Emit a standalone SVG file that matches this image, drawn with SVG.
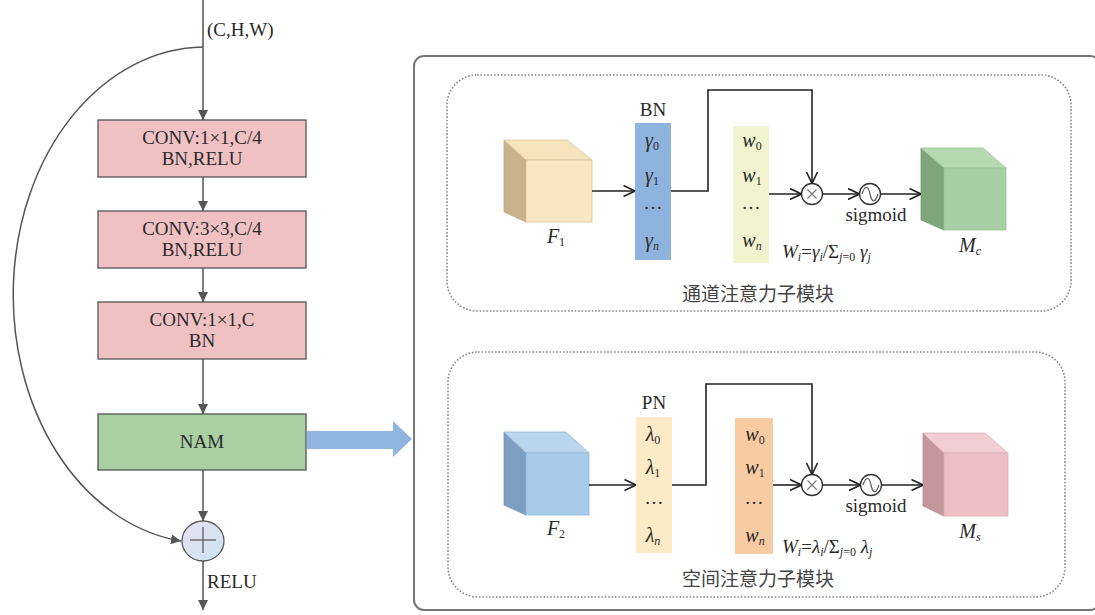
<svg xmlns="http://www.w3.org/2000/svg" width="1095" height="615" viewBox="0 0 1095 615">
<style>
.box{stroke:#555;stroke-width:1.3}
.pink{fill:#F0C1C3}
.green{fill:#A9CFA3}
.t{font-family:"Liberation Serif","Times New Roman",serif;font-size:19px;fill:#2a2a2a;text-anchor:middle}
.ti{font-family:"Liberation Serif","Times New Roman",serif;font-size:20px;font-style:italic;fill:#2a2a2a;text-anchor:middle}
.tl{font-family:"Liberation Serif","Times New Roman",serif;font-size:19px;fill:#2a2a2a}
.cn{font-family:"Noto Sans CJK SC",sans-serif;font-size:19px;fill:#444;text-anchor:middle}
.lc{fill:none;stroke:#555;stroke-width:1.5}
.rc{fill:none;stroke:#222;stroke-width:1.6}
.dot{fill:none;stroke:#888;stroke-width:1.6;stroke-dasharray:1.6 1.8}
.op{fill:#fff;stroke:#333;stroke-width:1.3}
</style>
<defs>
<marker id="tri" viewBox="0 0 10 10" refX="10" refY="5" markerWidth="10" markerHeight="10" markerUnits="userSpaceOnUse" orient="auto">
<path d="M0,0 L10,5 L0,10 z" fill="#555"/>
</marker>
<marker id="chev" viewBox="0 0 12 12" refX="12" refY="6" markerWidth="12" markerHeight="12" markerUnits="userSpaceOnUse" orient="auto">
<path d="M0.5,0.5 L12,6 L0.5,11.5" fill="none" stroke="#222" stroke-width="1.6"/>
</marker>
<linearGradient id="plusg" x1="0" y1="0" x2="1" y2="1">
<stop offset="0" stop-color="#EAE0F4"/>
<stop offset="1" stop-color="#C9E6F0"/>
</linearGradient>
</defs>
<rect width="1095" height="615" fill="#fff"/>

<!-- Left connectors -->
<g id="left-connectors">
<line class="lc" x1="203" y1="0" x2="203" y2="120" marker-end="url(#tri)"/>
<line class="lc" x1="203" y1="177" x2="203" y2="211" marker-end="url(#tri)"/>
<line class="lc" x1="203" y1="268" x2="203" y2="302" marker-end="url(#tri)"/>
<line class="lc" x1="203" y1="359" x2="203" y2="414" marker-end="url(#tri)"/>
<line class="lc" x1="203" y1="470" x2="203" y2="521" marker-end="url(#tri)"/>
<line class="lc" x1="203" y1="561" x2="203" y2="610" marker-end="url(#tri)"/>
<path class="lc" d="M203,47 A192,248 0 0 0 181,541" marker-end="url(#tri)"/>
</g>

<text class="tl" x="207" y="36">(C,H,W)</text>

<g id="conv1">
<rect class="box pink" x="98" y="120" width="208" height="57"/>
<text class="t" x="202" y="144">CONV:1×1,C/4</text>
<text class="t" x="202" y="165">BN,RELU</text>
</g>
<g id="conv2">
<rect class="box pink" x="98" y="211" width="208" height="57"/>
<text class="t" x="202" y="235">CONV:3×3,C/4</text>
<text class="t" x="202" y="256">BN,RELU</text>
</g>
<g id="conv3">
<rect class="box pink" x="98" y="302" width="208" height="57"/>
<text class="t" x="202" y="326">CONV:1×1,C</text>
<text class="t" x="202" y="347">BN</text>
</g>
<g id="nam">
<rect class="box green" x="98" y="414" width="208" height="56"/>
<text class="t" x="202" y="448">NAM</text>
</g>
<g id="add">
<ellipse cx="203" cy="541" rx="21" ry="20" fill="url(#plusg)" stroke="#555" stroke-width="1.3"/>
<line x1="190" y1="540" x2="216" y2="540" stroke="#666" stroke-width="1.4"/>
<line x1="203" y1="527" x2="203" y2="553" stroke="#666" stroke-width="1.4"/>
</g>
<text class="tl" x="207" y="588">RELU</text>

<g id="big-arrow">
<polygon points="307,431 393,431 393,421 412,439 393,457 393,449 307,449" fill="#8FB4E0"/>
</g>

<!-- Right panel -->
<g id="panel">
<rect x="414" y="56" width="686" height="554" rx="10" fill="none" stroke="#777" stroke-width="2"/>
<rect class="dot" x="447" y="75" width="624" height="236" rx="30"/>
<rect class="dot" x="448" y="352" width="617" height="245" rx="30"/>
</g>

<!-- Channel attention -->
<g id="F1">
<polygon points="504,140 526,160 526,222 504,212" fill="#C8B28D" stroke="#BFA986" stroke-width="0.8"/>
<polygon points="504,140 567,140 592,160 526,160" fill="#F6E3BE" stroke="#D8C49E" stroke-width="0.8"/>
<rect x="526" y="160" width="66" height="62" fill="#FAE6C3" stroke="#D8C49E" stroke-width="0.8"/>
<text class="ti" x="556" y="243">F<tspan font-style="normal" font-size="12" dy="3">1</tspan></text>
</g>
<g id="BN">
<text class="t" x="653" y="116">BN</text>
<rect x="635" y="123" width="36" height="137" fill="#8FB3DF"/>
<text class="ti" x="652" y="147">γ<tspan font-style="normal" font-size="12" dy="3">0</tspan></text>
<text class="ti" x="652" y="182">γ<tspan font-style="normal" font-size="12" dy="3">1</tspan></text>
<text class="t" x="653" y="209">…</text>
<text class="ti" x="652" y="247">γ<tspan font-size="12" dy="3">n</tspan></text>
</g>
<g id="W1">
<rect x="733" y="126" width="36" height="137" fill="#F1F4CF"/>
<text class="ti" x="752" y="147">w<tspan font-style="normal" font-size="12" dy="3">0</tspan></text>
<text class="ti" x="752" y="182">w<tspan font-style="normal" font-size="12" dy="3">1</tspan></text>
<text class="t" x="751" y="209">…</text>
<text class="ti" x="752" y="247">w<tspan font-size="12" dy="3">n</tspan></text>
</g>
<g id="mul1">
<circle class="op" cx="812" cy="194" r="10.5"/>
<path d="M807.5,189.5 L816.5,198.5 M816.5,189.5 L807.5,198.5" stroke="#777" stroke-width="1.2"/>
</g>
<g id="sig1">
<circle class="op" cx="870" cy="194" r="10.5"/>
<path d="M862,194 C865,185 868,185 870,194 C872,203 875,203 878,194" fill="none" stroke="#555" stroke-width="1.2"/>
<text class="t" x="876" y="221" font-size="20">sigmoid</text>
</g>
<g id="Mc">
<polygon points="921,148 944,168 944,230 921,220" fill="#7FA67B" stroke="#77A073" stroke-width="0.8"/>
<polygon points="921,148 983,148 1006,168 944,168" fill="#B6D9B1" stroke="#9CC497" stroke-width="0.8"/>
<rect x="944" y="168" width="62" height="62" fill="#A7CFA3" stroke="#9CC497" stroke-width="0.8"/>
<text class="ti" x="970" y="252">M<tspan font-size="12" dy="3">c</tspan></text>
</g>
<text class="tl" x="782" y="258" font-style="italic" font-size="20">W<tspan font-size="12" dy="3">i</tspan><tspan dy="-3" font-style="normal">=</tspan>γ<tspan font-size="12" dy="3">i</tspan><tspan dy="-3" font-style="normal">/Σ</tspan><tspan font-size="12" dy="3">j</tspan><tspan font-size="12" font-style="normal">=0</tspan><tspan dy="-3"> γ</tspan><tspan font-size="12" dy="3">j</tspan></text>
<text class="cn" x="758" y="301">通道注意力子模块</text>

<!-- Spatial attention -->
<g id="F2">
<polygon points="504,432 526,453 526,515 504,505" fill="#7E9FC1" stroke="#7595B8" stroke-width="0.8"/>
<polygon points="504,432 566,432 589,453 526,453" fill="#BAD5EE" stroke="#93B4D6" stroke-width="0.8"/>
<rect x="526" y="453" width="63" height="62" fill="#A9CBEA" stroke="#93B4D6" stroke-width="0.8"/>
<text class="ti" x="556" y="535">F<tspan font-style="normal" font-size="12" dy="3">2</tspan></text>
</g>
<g id="PN">
<text class="t" x="654" y="409">PN</text>
<rect x="636" y="417" width="36" height="136" fill="#FCEBC6"/>
<text class="ti" x="653" y="441">λ<tspan font-style="normal" font-size="12" dy="3">0</tspan></text>
<text class="ti" x="653" y="474">λ<tspan font-style="normal" font-size="12" dy="3">1</tspan></text>
<text class="t" x="654" y="504">…</text>
<text class="ti" x="653" y="542">λ<tspan font-size="12" dy="3">n</tspan></text>
</g>
<g id="W2">
<rect x="735" y="418" width="38" height="136" fill="#F9CBA2"/>
<text class="ti" x="755" y="441">w<tspan font-style="normal" font-size="12" dy="3">0</tspan></text>
<text class="ti" x="755" y="474">w<tspan font-style="normal" font-size="12" dy="3">1</tspan></text>
<text class="t" x="754" y="504">…</text>
<text class="ti" x="755" y="542">w<tspan font-size="12" dy="3">n</tspan></text>
</g>
<g id="mul2">
<circle class="op" cx="812" cy="485" r="10.5"/>
<path d="M807.5,480.5 L816.5,489.5 M816.5,480.5 L807.5,489.5" stroke="#777" stroke-width="1.2"/>
</g>
<g id="sig2">
<circle class="op" cx="871" cy="485" r="10.5"/>
<path d="M863,485 C866,476 869,476 871,485 C873,494 876,494 879,485" fill="none" stroke="#555" stroke-width="1.2"/>
<text class="t" x="876" y="512" font-size="20">sigmoid</text>
</g>
<g id="Ms">
<polygon points="923,433 944,453 944,516 923,506" fill="#C3979C" stroke="#B88C91" stroke-width="0.8"/>
<polygon points="923,433 985,433 1008,453 944,453" fill="#F2CDD1" stroke="#DDB2B7" stroke-width="0.8"/>
<rect x="944" y="453" width="64" height="63" fill="#EEC0C5" stroke="#DDB2B7" stroke-width="0.8"/>
<text class="ti" x="970" y="538">M<tspan font-size="12" dy="3">s</tspan></text>
</g>
<text class="tl" x="782" y="553" font-style="italic" font-size="20">W<tspan font-size="12" dy="3">i</tspan><tspan dy="-3" font-style="normal">=</tspan>λ<tspan font-size="12" dy="3">i</tspan><tspan dy="-3" font-style="normal">/Σ</tspan><tspan font-size="12" dy="3">j</tspan><tspan font-size="12" font-style="normal">=0</tspan><tspan dy="-3"> λ</tspan><tspan font-size="12" dy="3">j</tspan></text>
<text class="cn" x="758" y="586">空间注意力子模块</text>

<!-- Right connectors -->
<g id="right-connectors">
<line class="rc" x1="592" y1="191" x2="635" y2="191" marker-end="url(#chev)"/>
<polyline class="rc" points="671,191 708,191 708,90 812,90 812,183.5" marker-end="url(#chev)"/>
<line class="rc" x1="769" y1="194" x2="801.5" y2="194" marker-end="url(#chev)"/>
<line class="rc" x1="822.5" y1="194" x2="859.5" y2="194" marker-end="url(#chev)"/>
<line class="rc" x1="880.5" y1="194" x2="921" y2="194" marker-end="url(#chev)"/>
<line class="rc" x1="589" y1="485" x2="636" y2="485" marker-end="url(#chev)"/>
<polyline class="rc" points="672,485 706,485 706,384 812,384 812,474.5" marker-end="url(#chev)"/>
<line class="rc" x1="773" y1="485" x2="801.5" y2="485" marker-end="url(#chev)"/>
<line class="rc" x1="822.5" y1="485" x2="860.5" y2="485" marker-end="url(#chev)"/>
<line class="rc" x1="881.5" y1="485" x2="923" y2="485" marker-end="url(#chev)"/>
</g>
</svg>
